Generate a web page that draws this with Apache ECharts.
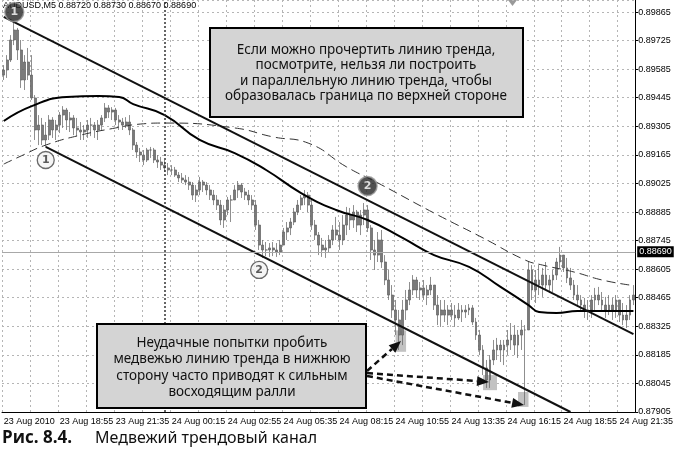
<!DOCTYPE html>
<html>
<head>
<meta charset="utf-8">
<script src="https://cdn.jsdelivr.net/npm/echarts@6/dist/echarts.min.js"></script>
</head>
<body style="margin:0;background:#fff">
<div id="container" style="width:676px;height:452px"></div>
<script>
// AUDUSD M5, 23-24 Aug 2010, one bar = 10 minutes
var BASE = 0.87905;        // lowest price label
var STEP = 140;            // label step in points (0.00140)
var firstOpen = 0.89556;

var high = [
  0.89605,0.89654,0.89752,0.89826,0.89787,0.89728,0.89654,0.89689,0.89654,0.89458,
  0.89360,0.89346,0.89326,0.89360,0.89350,0.89336,0.89375,0.89404,0.89395,0.89375,
  0.89360,0.89346,0.89326,0.89311,0.89336,0.89346,0.89326,0.89336,0.89360,0.89419,
  0.89409,0.89399,0.89395,0.89360,0.89346,0.89350,0.89360,0.89297,0.89228,0.89199,
  0.89189,0.89199,0.89204,0.89199,0.89164,0.89155,0.89140,0.89125,0.89115,0.89106,
  0.89081,0.89076,0.89066,0.89057,0.89032,0.89017,0.89057,0.89042,0.89032,0.89017,
  0.88993,0.88968,0.88944,0.88919,0.88959,0.88968,0.89017,0.89037,0.89027,0.89003,
  0.88993,0.88968,0.88944,0.88846,0.88748,0.88738,0.88733,0.88738,0.88733,0.88748,
  0.88807,0.88836,0.88856,0.88905,0.88944,0.88968,0.88993,0.88983,0.88944,0.88846,
  0.88787,0.88758,0.88748,0.88772,0.88821,0.88861,0.88836,0.88870,0.88910,0.88905,
  0.88919,0.88895,0.88895,0.88929,0.88919,0.88821,0.88748,0.88787,0.88797,0.88674,
  0.88601,0.88527,0.88454,0.88405,0.88454,0.88503,0.88542,0.88576,0.88567,0.88542,
  0.88552,0.88527,0.88567,0.88527,0.88478,0.88454,0.88454,0.88429,0.88439,0.88429,
  0.88439,0.88429,0.88429,0.88434,0.88429,0.88366,0.88307,0.88233,0.88160,0.88184,
  0.88258,0.88268,0.88258,0.88258,0.88307,0.88341,0.88331,0.88307,0.88356,0.88331,
  0.88640,0.88625,0.88601,0.88625,0.88611,0.88640,0.88576,0.88601,0.88660,0.88714,
  0.88674,0.88660,0.88611,0.88552,0.88527,0.88478,0.88464,0.88454,0.88478,0.88513,
  0.88518,0.88493,0.88469,0.88478,0.88464,0.88478,0.88454,0.88439,0.88429,0.88478,
  0.88527
];
var low = [
  0.89532,0.89542,0.89620,0.89703,0.89630,0.89493,0.89483,0.89532,0.89434,0.89238,
  0.89213,0.89213,0.89204,0.89238,0.89248,0.89238,0.89272,0.89297,0.89287,0.89277,
  0.89262,0.89257,0.89238,0.89238,0.89248,0.89257,0.89248,0.89238,0.89287,0.89326,
  0.89346,0.89336,0.89311,0.89287,0.89287,0.89297,0.89262,0.89189,0.89150,0.89130,
  0.89115,0.89130,0.89150,0.89125,0.89101,0.89091,0.89081,0.89066,0.89066,0.89057,
  0.89032,0.89027,0.89017,0.88993,0.88944,0.88934,0.88968,0.88983,0.88968,0.88944,
  0.88919,0.88895,0.88821,0.88807,0.88870,0.88836,0.88944,0.88954,0.88954,0.88944,
  0.88919,0.88895,0.88797,0.88699,0.88660,0.88669,0.88665,0.88669,0.88665,0.88674,
  0.88723,0.88748,0.88772,0.88821,0.88870,0.88895,0.88919,0.88885,0.88797,0.88748,
  0.88674,0.88665,0.88660,0.88689,0.88723,0.88748,0.88699,0.88723,0.88772,0.88797,
  0.88807,0.88787,0.88772,0.88821,0.88787,0.88650,0.88601,0.88640,0.88611,0.88527,
  0.88454,0.88366,0.88282,0.88209,0.88233,0.88356,0.88429,0.88478,0.88464,0.88454,
  0.88454,0.88429,0.88478,0.88405,0.88331,0.88322,0.88346,0.88331,0.88356,0.88322,
  0.88356,0.88346,0.88366,0.88380,0.88331,0.88258,0.88184,0.88086,0.88023,0.88023,
  0.88135,0.88160,0.88150,0.88135,0.88184,0.88209,0.88184,0.88170,0.88209,0.87939,
  0.88307,0.88454,0.88439,0.88478,0.88469,0.88503,0.88488,0.88493,0.88552,0.88611,
  0.88591,0.88537,0.88503,0.88454,0.88420,0.88395,0.88366,0.88356,0.88366,0.88405,
  0.88429,0.88395,0.88366,0.88380,0.88356,0.88366,0.88346,0.88331,0.88317,0.88356,
  0.88429
];
var close = [
  0.89581,0.89630,0.89728,0.89777,0.89679,0.89532,0.89620,0.89556,0.89444,0.89287,
  0.89311,0.89238,0.89262,0.89336,0.89287,0.89311,0.89360,0.89385,0.89336,0.89346,
  0.89297,0.89287,0.89277,0.89287,0.89311,0.89311,0.89287,0.89311,0.89346,0.89395,
  0.89375,0.89385,0.89336,0.89326,0.89311,0.89326,0.89287,0.89213,0.89179,0.89164,
  0.89140,0.89189,0.89189,0.89140,0.89130,0.89115,0.89101,0.89091,0.89091,0.89066,
  0.89052,0.89042,0.89032,0.89017,0.88968,0.88993,0.89032,0.89017,0.88993,0.88968,
  0.88944,0.88919,0.88846,0.88895,0.88944,0.88944,0.88993,0.89017,0.88983,0.88968,
  0.88944,0.88919,0.88821,0.88723,0.88699,0.88699,0.88709,0.88699,0.88689,0.88723,
  0.88787,0.88807,0.88836,0.88885,0.88919,0.88954,0.88968,0.88919,0.88821,0.88772,
  0.88723,0.88699,0.88709,0.88748,0.88797,0.88772,0.88748,0.88821,0.88870,0.88846,
  0.88885,0.88821,0.88870,0.88895,0.88807,0.88699,0.88674,0.88748,0.88640,0.88552,
  0.88478,0.88405,0.88356,0.88282,0.88405,0.88454,0.88503,0.88552,0.88503,0.88513,
  0.88478,0.88503,0.88527,0.88429,0.88380,0.88405,0.88380,0.88405,0.88380,0.88366,
  0.88405,0.88395,0.88405,0.88415,0.88346,0.88282,0.88209,0.88121,0.88062,0.88160,
  0.88209,0.88233,0.88209,0.88233,0.88258,0.88282,0.88233,0.88282,0.88307,0.88307,
  0.88601,0.88503,0.88552,0.88527,0.88576,0.88527,0.88552,0.88576,0.88640,0.88674,
  0.88611,0.88562,0.88527,0.88478,0.88454,0.88429,0.88405,0.88405,0.88454,0.88478,
  0.88454,0.88429,0.88405,0.88429,0.88405,0.88454,0.88380,0.88356,0.88380,0.88454,
  0.88478
];

// moving averages, [bar index, price]
var maSolid = [[0,0.89331],[8,0.89404],[18,0.89449],[27,0.89453],[33,0.89449],[37,0.89414],
  [46,0.89360],[56,0.89238],[66,0.89174],[75,0.89091],[85,0.88978],[95,0.88895],[104,0.88846],
  [114,0.88758],[123,0.88674],[133,0.88616],[142,0.88518],[150,0.88429],[153,0.88395],
  [158,0.88390],[164,0.88400],[180,0.88400]];
var maDashed = [[0,0.89120],[5,0.89160],[12,0.89213],[22,0.89262],[32,0.89297],[39,0.89316],
  [46,0.89321],[66,0.89297],[77,0.89253],[87,0.89223],[98,0.89106],[107,0.89027],[123,0.88880],
  [137,0.88758],[149,0.88650],[154,0.88625],[163,0.88591],[171,0.88552],[179,0.88527]];

var upperTrend = [[0,0.89841],[180,0.88287]];
var lowerTrend = [[12,0.89204],[162,0.87905]];
var currentPrice = 0.88690;
var daySeparator = 46;   // 24 Aug 00:00

var tickLabels = ['23 Aug 2010','23 Aug 18:55','23 Aug 21:35','24 Aug 00:15','24 Aug 02:55',
  '24 Aug 05:35','24 Aug 08:15','24 Aug 10:55','24 Aug 13:35','24 Aug 16:15','24 Aug 18:55',
  '24 Aug 21:35'];

var markers = [
  {i:3,   p:0.89865, text:'1', dark:true},
  {i:12,  p:0.89140, text:'1', dark:false},
  {i:104, p:0.89012, text:'2', dark:true},
  {i:73,  p:0.88601, text:'2', dark:false}
];
// failed breaks: [from bar, top price, to bar, bottom price]
var highlights = [[112,0.88305,115,0.88200],[137,0.88086,141,0.88012],[147,0.88003,150,0.87930]];

function pts(p) { return +((p - BASE) * 1e5).toFixed(1); }
function pairs(list) { return list.map(function (d) { return [d[0], pts(d[1])]; }); }

var cats = [];
var candles = [];
for (var i = 0; i < close.length; i++) {
  cats.push(String(i));
  var o = i === 0 ? firstOpen : close[i - 1];
  candles.push([pts(o), pts(close[i]), pts(low[i]), pts(high[i])]);
}

function arrow(x1, y1, x2, y2) {
  var a = Math.atan2(y2 - y1, x2 - x1), L = 12, W = 5;
  var bx = x2 - L * Math.cos(a), by = y2 - L * Math.sin(a);
  return [
    {type:'line', z:100, shape:{x1:x1, y1:y1, x2:bx, y2:by},
     style:{stroke:'#111', lineWidth:2.5, lineDash:[6,4]}},
    {type:'polygon', z:100, shape:{points:[[x2,y2],[bx - W*Math.sin(a), by + W*Math.cos(a)],[bx + W*Math.sin(a), by - W*Math.cos(a)]]},
     style:{fill:'#111'}}
  ];
}

var boxFont = '13.5px "Noto Sans"';
var graphics = [
  {type:'text', left:3, top:1, style:{text:'AUDUSD,M5 0.88720 0.88730 0.88670 0.88690', font:'9px "Liberation Sans"', fill:'#000'}},
  {type:'polygon', shape:{points:[[508,0],[517,0],[512.5,6]]}, style:{fill:'#999'}},
  {type:'rect', z:100, shape:{x:210, y:28, width:313, height:89}, style:{fill:'#d4d4d4', stroke:'#000', lineWidth:2}},
  {type:'text', z:101, style:{x:366, y:42, textAlign:'center', textVerticalAlign:'top', font:boxFont, lineHeight:15.6, fill:'#111',
    text:'Если можно прочертить линию тренда,\nпосмотрите, нельзя ли построить\nи параллельную линию тренда, чтобы\nобразовалась граница по верхней стороне'}},
  {type:'rect', z:100, shape:{x:97, y:324, width:269, height:84}, style:{fill:'#d4d4d4', stroke:'#000', lineWidth:2}},
  {type:'text', z:101, style:{x:232, y:335, textAlign:'center', textVerticalAlign:'top', font:boxFont, lineHeight:16.3, fill:'#111',
    text:'Неудачные попытки пробить\nмедвежью линию тренда в нижнюю\nсторону часто приводят к сильным\nвосходящим ралли'}},
  {type:'text', left:2, top:430, style:{text:'Рис. 8.4.', font:'bold 17px "Open Sans"', fill:'#111'}},
  {type:'text', left:95, top:430, style:{text:'Медвежий трендовый канал', font:'16px "Noto Sans"', fill:'#111'}}
].concat(arrow(367, 371, 401, 341), arrow(367, 373, 489, 382), arrow(367, 376, 524, 405));

var dom = document.getElementById('container');
var myChart = echarts.init(dom);
var option = {
  animation: false,
  backgroundColor: '#fff',
  grid: {left: 2, right: 33, top: 0, bottom: 40},
  xAxis: {
    type: 'category',
    data: cats,
    boundaryGap: true,
    axisLine: {lineStyle: {color: '#000', width: 1}},
    axisTick: {interval: 7, length: 3, lineStyle: {color: '#000'}},
    axisLabel: {
      interval: 15, align: 'left', margin: 5, fontSize: 9, color: '#000', fontFamily: 'Liberation Sans',
      formatter: function (v, idx) { return tickLabels[idx / 16] || ''; }
    },
    splitLine: {show: true, interval: 7, lineStyle: {color: '#b5b5b5', type: [2, 3]}}
  },
  yAxis: {
    type: 'value',
    position: 'right',
    min: 0,
    max: 2019,
    interval: STEP,
    axisLine: {show: true, lineStyle: {color: '#000'}},
    axisTick: {show: true, length: 3, lineStyle: {color: '#000'}},
    axisLabel: {
      margin: 3, fontSize: 9, color: '#000', fontFamily: 'Liberation Sans', showMaxLabel: false,
      formatter: function (v) { return (BASE + v / 1e5).toFixed(5); }
    },
    splitLine: {show: true, lineStyle: {color: '#b5b5b5', type: [2, 3]}}
  },
  graphic: graphics,
  series: [
    {
      name: 'breaks', type: 'line', data: [], z: 1, silent: true,
      markArea: {silent: true, itemStyle: {color: '#c2c2c2'},
        data: highlights.map(function (h) { return [{xAxis: h[0], yAxis: pts(h[1])}, {xAxis: h[2], yAxis: pts(h[3])}]; })}
    },
    {
      name: 'AUDUSD', type: 'candlestick', data: candles, barWidth: 2.4, z: 2,
      itemStyle: {color: '#7a7a7a', color0: '#7a7a7a', borderColor: '#5e5e5e', borderColor0: '#5e5e5e', borderWidth: 0.7},
      markLine: {
        silent: true, symbol: 'none',
        data: [
          {yAxis: pts(currentPrice), lineStyle: {color: '#a8a8a8', width: 1, type: 'solid'},
           label: {show: true, position: 'end', distance: 2, formatter: currentPrice.toFixed(5),
                   backgroundColor: '#000', color: '#fff', fontSize: 9, fontFamily: 'Liberation Sans', padding: [1, 2]}},
          {xAxis: daySeparator, lineStyle: {color: '#333', width: 1.5, type: [2, 2]}, label: {show: false}}
        ]
      }
    },
    {name: 'MA slow', type: 'line', data: pairs(maSolid), smooth: true, symbol: 'none', z: 3,
     lineStyle: {color: '#000', width: 2}},
    {name: 'MA dashed', type: 'line', data: pairs(maDashed), smooth: true, symbol: 'none', z: 3,
     lineStyle: {color: '#333', width: 1, type: [9, 5]}},
    {name: 'upper', type: 'line', data: pairs(upperTrend), symbol: 'none', z: 3,
     lineStyle: {color: '#111', width: 2}},
    {name: 'lower', type: 'line', data: pairs(lowerTrend), symbol: 'none', z: 3,
     lineStyle: {color: '#111', width: 2}},
    {
      name: 'points', type: 'scatter', z: 5,
      data: markers.map(function (m) {
        return {
          value: [m.i, pts(m.p)],
          symbolSize: m.dark ? 19 : 17,
          itemStyle: m.dark ? {color: '#262626', borderColor: '#9a9a9a', borderWidth: 1.5}
                            : {color: '#f2f2f2', borderColor: '#444', borderWidth: 1.3},
          label: {show: true, position: 'inside', formatter: m.text, fontSize: 11, fontWeight: 'bold',
                  fontFamily: 'DejaVu Sans', color: m.dark ? '#fff' : '#333'}
        };
      })
    }
  ]
};
myChart.setOption(option);
</script>
</body>
</html>
